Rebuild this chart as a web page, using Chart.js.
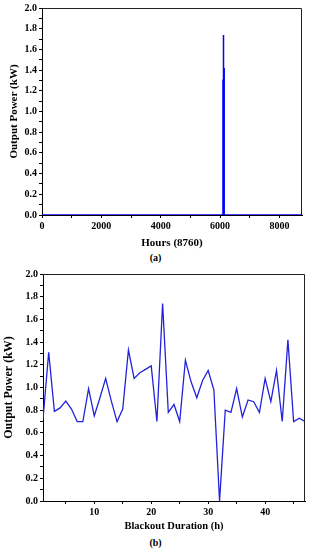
<!DOCTYPE html>
<html>
<head>
<meta charset="utf-8">
<script src="https://cdn.jsdelivr.net/npm/chart.js@4.4.1/dist/chart.umd.min.js"></script>
<style>
  body { margin: 0; background: #fff; }
  #wrap { position: relative; width: 311px; height: 550px; }
  canvas { position: absolute; left: 0; }
  .cap { position: absolute; left: 0; width: 311px; text-align: center; font: bold 10px "Liberation Serif", serif; color: #000; }
</style>
</head>
<body>
<div id="wrap">
  <canvas id="chartA" width="311" height="252" style="top:0"></canvas>
  <div class="cap" style="top:252px">(a)</div>
  <canvas id="chartB" width="311" height="269" style="top:266px"></canvas>
  <div class="cap" style="top:537px">(b)</div>
</div>
<script>
// blackout hours and the power delivered in each hour
const blackoutHours = [1, 2, 3, 4, 5, 6, 7, 8, 9, 10, 11, 12, 13, 14, 15, 16, 17, 18, 19, 20, 21, 22, 23, 24,
  25, 26, 27, 28, 29, 30, 31, 32, 33, 34, 35, 36, 37, 38, 39, 40, 41, 42, 43, 44, 45, 46, 47];
const blackoutPower = [0.72, 1.31, 0.79, 0.82, 0.88, 0.81, 0.70, 0.70, 0.99, 0.75, 0.91, 1.08, 0.88, 0.70,
  0.81, 1.33, 1.08, 1.13, 1.16, 1.19, 0.70, 1.74, 0.78, 0.85, 0.70, 1.24, 1.05, 0.91, 1.06, 1.15, 0.98,
  0.00, 0.80, 0.78, 0.99, 0.74, 0.89, 0.875, 0.78, 1.08, 0.875, 1.15, 0.70, 1.42, 0.70, 0.73, 0.70];

// where the blackout sits in the year
const yearHours = 8760;
const blackoutStart = 6096;

// tick positions (minor + major) and the ones that get a label
const powerTicks = [0, 0.1, 0.2, 0.3, 0.4, 0.5, 0.6, 0.7, 0.8, 0.9, 1.0, 1.1, 1.2, 1.3, 1.4, 1.5, 1.6, 1.7, 1.8, 1.9, 2.0];
const powerLabels = ['0.0', '0.2', '0.4', '0.6', '0.8', '1.0', '1.2', '1.4', '1.6', '1.8', '2.0'];
const yearTicks = [0, 1000, 2000, 3000, 4000, 5000, 6000, 7000, 8000];
const yearLabels = ['0', '2000', '4000', '6000', '8000'];
const blackoutTicks = [5, 10, 15, 20, 25, 30, 35, 40, 45];
const blackoutLabels = ['10', '20', '30', '40'];

const tickFont = { family: 'Liberation Serif', size: 10, weight: 'bold' };

// whole year: zero outside the blackout
const yearData = [{ x: 0, y: 0 }, { x: blackoutStart, y: 0 }];
blackoutHours.forEach((h, i) => yearData.push({ x: blackoutStart + h, y: blackoutPower[i] }));
yearData.push({ x: blackoutStart + blackoutHours.length + 1, y: 0 }, { x: yearHours, y: 0 });

const blackoutData = blackoutHours.map((h, i) => ({ x: h, y: blackoutPower[i] }));

const frame = {
  id: 'frame',
  afterDraw(chart) {
    const a = chart.chartArea, c = chart.ctx;
    c.save();
    c.strokeStyle = '#222';
    c.lineWidth = 1;
    c.beginPath();
    c.moveTo(a.left, a.top + 0.5);
    c.lineTo(a.right - 0.5, a.top + 0.5);
    c.lineTo(a.right - 0.5, a.bottom);
    c.stroke();
    c.restore();
  }
};

function axis(opts) {
  return {
    type: 'linear', min: opts.min, max: opts.max,
    afterFit: s => { if (opts.width) s.width = opts.width; if (opts.height) s.height = opts.height; },
    afterBuildTicks: s => { s.ticks = opts.ticks.map(v => ({ value: v })); },
    grid: { drawOnChartArea: false, tickLength: 3, color: '#000' },
    border: { color: '#000', width: 1 },
    ticks: {
      autoSkip: false, maxRotation: 0, padding: 2, color: '#000', font: tickFont,
      callback: v => {
        const s = opts.fmt(v);
        return opts.labels.includes(s) ? s : '';
      }
    },
    title: {
      display: true, text: opts.title, color: '#000',
      font: { family: 'Liberation Serif', size: opts.titleSize, weight: 'bold' },
      padding: opts.titlePad
    }
  };
}

new Chart(document.getElementById('chartA').getContext('2d'), {
  type: 'line',
  data: {
    datasets: [{
      data: yearData,
      borderColor: '#0000ff',
      borderWidth: 1.5,
      pointRadius: 0,
      tension: 0
    }]
  },
  options: {
    responsive: false,
    animation: false,
    layout: { padding: { top: 6, right: 9, left: 0, bottom: 0 } },
    plugins: { legend: { display: false }, tooltip: { enabled: false } },
    scales: {
      x: axis({ min: 0, max: yearHours, ticks: yearTicks, labels: yearLabels, fmt: v => String(v),
        title: 'Hours (8760)', titleSize: 11, titlePad: { top: 0, bottom: 2 }, height: 37 }),
      y: axis({ min: 0, max: 2, ticks: powerTicks, labels: powerLabels, fmt: v => v.toFixed(1),
        title: 'Output Power (kW)', titleSize: 11, titlePad: { top: 8, bottom: 0 }, width: 42 })
    }
  },
  plugins: [frame]
});

new Chart(document.getElementById('chartB').getContext('2d'), {
  type: 'line',
  data: {
    datasets: [{
      data: blackoutData,
      borderColor: '#2222dd',
      borderWidth: 1.3,
      pointRadius: 0,
      tension: 0
    }]
  },
  options: {
    responsive: false,
    animation: false,
    layout: { padding: { top: 7, right: 6, left: 0, bottom: 0 } },
    plugins: { legend: { display: false }, tooltip: { enabled: false } },
    scales: {
      x: axis({ min: 1, max: 47, ticks: blackoutTicks, labels: blackoutLabels, fmt: v => String(v),
        title: 'Blackout Duration (h)', titleSize: 10.5, titlePad: { top: 0, bottom: 2 }, height: 34 }),
      y: axis({ min: 0, max: 2, ticks: powerTicks, labels: powerLabels, fmt: v => v.toFixed(1),
        title: 'Output Power (kW)', titleSize: 12, titlePad: { top: 2, bottom: 0 }, width: 43 })
    }
  },
  plugins: [frame]
});
</script>
</body>
</html>
